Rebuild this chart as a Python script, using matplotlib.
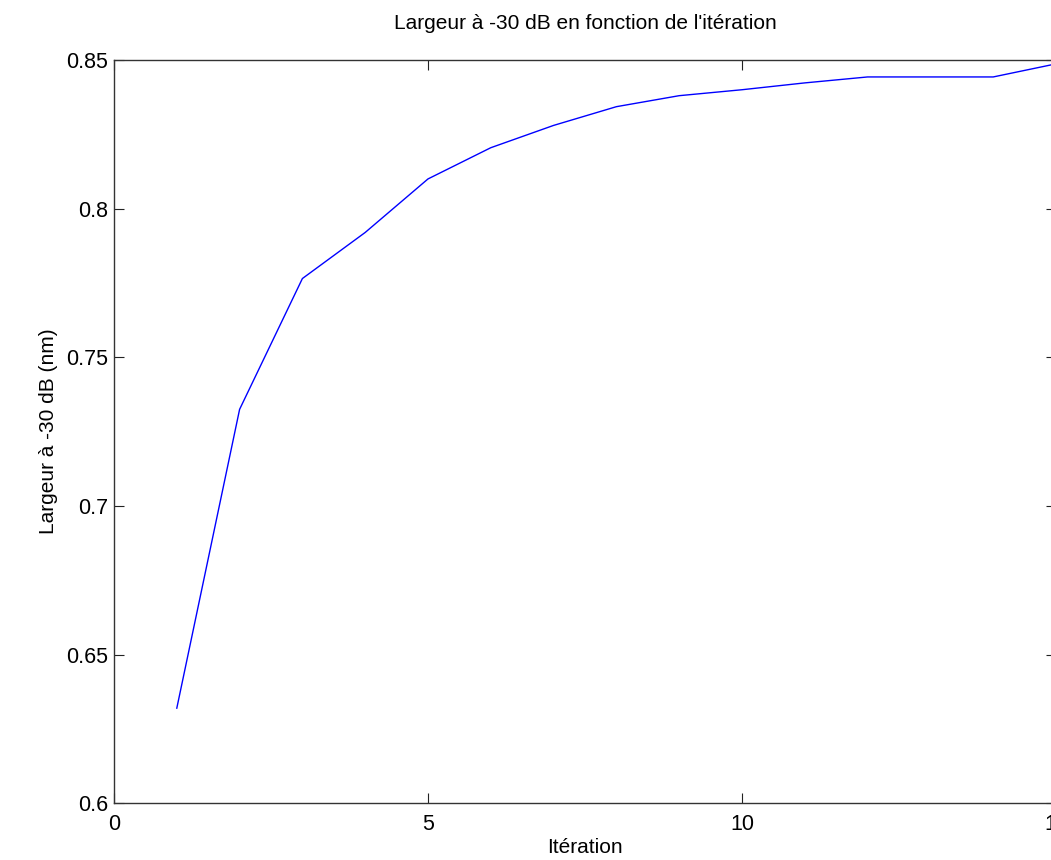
"""
Largeur à -30 dB en fonction de l'itération (MATLAB-style figure).
"""

import matplotlib
matplotlib.use("Agg")
import matplotlib.pyplot as plt


# ---------------------------------------------------------------------------
# Data
# ---------------------------------------------------------------------------

iterations = [1, 2, 3, 4, 5, 6, 7, 8, 9, 10, 11, 12, 13, 14, 15]
largeur_nm = [0.632, 0.7325, 0.7765, 0.792, 0.810, 0.8205, 0.828, 0.8343,
              0.838, 0.840, 0.8423, 0.8443, 0.8443, 0.8443, 0.8487]

x_ticks = [0, 5, 10, 15]
y_ticks = [0.6, 0.65, 0.7, 0.75, 0.8, 0.85]
y_tick_labels = ["0.6", "0.65", "0.7", "0.75", "0.8", "0.85"]


# ---------------------------------------------------------------------------
# Plot
# ---------------------------------------------------------------------------

plt.rcParams["font.family"] = ["Liberation Sans", "DejaVu Sans"]

fig = plt.figure(figsize=(10.51, 8.6), dpi=100)
# axes run past the right edge of the picture, as in the cropped original
ax = fig.add_axes([114 / 1051, 56.7 / 860, 942 / 1051, 743.3 / 860])

ax.plot(iterations, largeur_nm, color="blue", linewidth=1.0)

ax.set_xlim(0, 15)
ax.set_ylim(0.6, 0.85)
ax.set_xticks(x_ticks)
ax.set_yticks(y_ticks)
ax.set_yticklabels(y_tick_labels)

ax.tick_params(direction="in", length=7, width=0.8, color="#222222",
               top=True, right=True, labelsize=15.5, pad=4)
ax.tick_params(axis="x", pad=8)
for sp in ax.spines.values():
    sp.set_color("#333333")
    sp.set_linewidth(1.0)

ax.set_title("Largeur à -30 dB en fonction de l'itération", fontsize=15, pad=22)
ax.set_xlabel("Itération", fontsize=15, labelpad=2)
ax.set_ylabel("Largeur à -30 dB (nm)", fontsize=15, labelpad=6)

fig.savefig("out.png", dpi=100)
